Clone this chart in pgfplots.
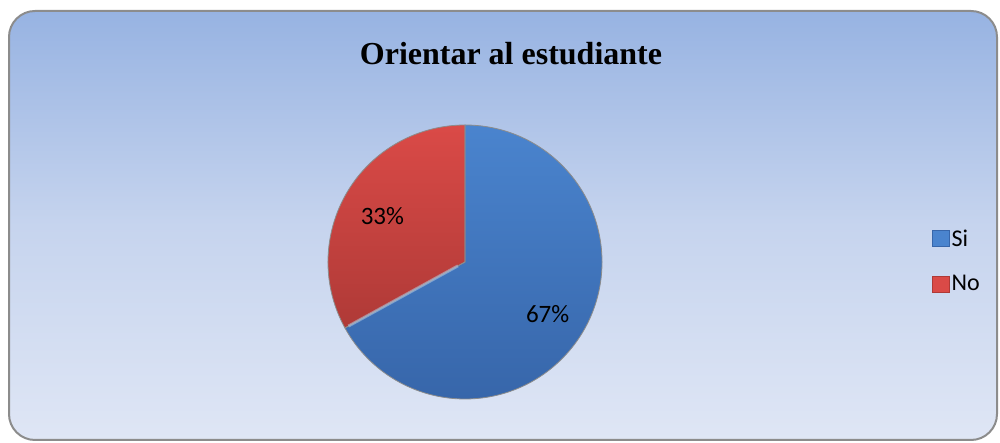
\documentclass[border=0pt]{standalone}
\usepackage{pgfplots}
\pgfplotsset{compat=1.18}
\usepackage{pgfplotstable}
\usetikzlibrary{calc}
\usepackage{fontspec}
\setmainfont{Carlito}
\newfontfamily\titlefont{Liberation Serif}

\definecolor{bgtop}{HTML}{97B3E2}
\definecolor{bgmid}{HTML}{C6D4EE}
\definecolor{bgbot}{HTML}{DFE6F5}
\definecolor{siblue}{HTML}{4A84CE}
\definecolor{sibluedark}{HTML}{3766AA}
\definecolor{nored}{HTML}{DA4A47}
\definecolor{noreddark}{HTML}{AF3A37}

% share of each answer, in percent
\pgfplotstableread{
label value
Si 67
No 33
}\piedata

\pgfplotstablegetelem{0}{value}\of\piedata \let\vsi\pgfplotsretval
\pgfplotstablegetelem{1}{value}\of\piedata \let\vno\pgfplotsretval
\pgfmathsetmacro{\tot}{\vsi+\vno}
\pgfmathsetmacro{\asi}{90-360*(\vsi/\tot)}   % Si runs clockwise from 12 o'clock
\pgfmathsetmacro{\ano}{\asi-360*(\vno/\tot)}
\pgfmathsetmacro{\msi}{(90+\asi)/2}
\pgfmathsetmacro{\mno}{(\asi+\ano)/2}

\newcommand{\lgfont}{\fontsize{24}{26}\selectfont}

\begin{document}
\begin{tikzpicture}
\begin{axis}[
  width=1000pt, height=443pt, scale only axis,
  xmin=0, xmax=1000, ymin=0, ymax=443,
  hide axis, clip=false,
  legend style={at={(axis cs:932,182)}, anchor=west, draw=none, fill=none,
    inner sep=0pt, row sep=24pt, nodes={font=\lgfont, inner sep=2pt},
    legend cell align=left},
  legend image code/.code={\draw[#1] (0pt,-8pt) rectangle (17pt,8pt);},
]
% chart area
\shade[top color=bgtop, bottom color=bgbot, middle color=bgmid, rounded corners=26pt]
  (axis cs:9,3) rectangle (axis cs:997,432);
\draw[gray!90, line width=2pt, rounded corners=26pt]
  (axis cs:9,3) rectangle (axis cs:997,432);

\node[font=\titlefont\bfseries\fontsize{32}{35}\selectfont] at (axis cs:511,389)
  {Orientar al estudiante};

% slices
\shade[top color=siblue, bottom color=sibluedark]
  (axis cs:465,181) -- ++(90:137pt) arc[start angle=90, end angle=\asi, radius=137pt] -- cycle;
\shade[top color=nored, bottom color=noreddark]
  (axis cs:465,181) -- ++(\asi:137pt) arc[start angle=\asi, end angle=\ano, radius=137pt] -- cycle;
\draw[black!45, line width=0.8pt]
  (axis cs:465,181) -- ++(90:137pt) arc[start angle=90, end angle=\asi, radius=137pt] -- cycle;
\draw[black!45, line width=0.8pt]
  (axis cs:465,181) -- ++(\asi:137pt) arc[start angle=\asi, end angle=\ano, radius=137pt] -- cycle;
\draw[white!60!siblue, line width=3pt, opacity=0.5]
  (axis cs:465,181) ++(\asi:8pt) -- ++(\asi:125pt);

\node[font=\fontsize{25}{27}\selectfont, yshift=-3pt] at ($(axis cs:465,181)+(\msi:96pt)$) {\vsi\%};
\node[font=\fontsize{25}{27}\selectfont, yshift=-3pt] at ($(axis cs:465,181)+(\mno:96pt)$) {\vno\%};

\addlegendimage{fill=siblue, draw=sibluedark}
\addlegendentry{\lgfont Si}
\addlegendimage{fill=nored, draw=noreddark}
\addlegendentry{\lgfont No}
\end{axis}
\pgfresetboundingbox
\useasboundingbox (0,0) rectangle (1000pt,443pt);
\end{tikzpicture}
\end{document}
